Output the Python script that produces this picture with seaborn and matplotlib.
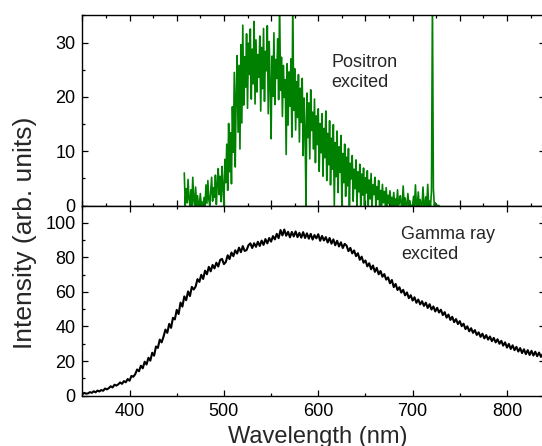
import numpy as np
import pandas as pd
import matplotlib
matplotlib.use("Agg")
import matplotlib.pyplot as plt
from matplotlib.ticker import MultipleLocator
import seaborn as sns

# ---------------- data ----------------
# Gamma-ray excited spectrum, sampled every 2 nm from 350 nm
gamma_start, gamma_step = 350, 2
gamma_intensity = [
    0.8, 1.6, 1.1, 1.3, 2.0, 1.6, 2.5, 1.9, 2.9, 2.4,
    3.2, 2.8, 4.1, 3.6, 4.3, 5.4, 4.7, 6.3, 5.8, 6.5,
    7.6, 6.8, 8.4, 7.7, 9.6, 8.6, 11.4, 10.9, 12.4, 15.1,
    14.1, 17.3, 15.8, 19.6, 18.0, 21.9, 20.2, 24.8, 23.1, 28.4,
    27.6, 32.4, 30.8, 34.1, 38.2, 36.3, 41.5, 39.2, 45.0, 44.1,
    49.6, 47.2, 53.8, 51.5, 57.4, 55.2, 60.3, 57.6, 62.9, 61.4,
    63.1, 67.4, 65.8, 69.9, 67.5, 72.3, 70.2, 74.5, 71.9, 75.6,
    73.6, 76.9, 74.7, 78.5, 79.1, 76.1, 77.3, 81.2, 79.0, 82.8,
    80.7, 84.1, 82.2, 85.6, 83.0, 86.5, 83.7, 84.2, 87.0, 88.1,
    85.4, 88.2, 86.1, 89.0, 86.6, 89.7, 87.2, 90.6, 88.1, 91.2,
    89.1, 92.3, 90.4, 93.6, 91.1, 95.8, 92.7, 96.1, 92.5, 94.8,
    91.6, 94.7, 92.1, 95.0, 91.7, 94.2, 91.4, 94.6, 91.2, 93.9,
    90.8, 93.6, 90.3, 92.9, 91.0, 93.4, 89.6, 92.4, 89.8, 91.7,
    88.6, 91.2, 87.9, 90.4, 87.0, 89.6, 86.3, 88.7, 85.4, 87.8,
    86.8, 83.6, 85.5, 82.3, 84.0, 80.7, 82.4, 78.6, 80.4, 76.9,
    78.2, 74.8, 76.6, 73.1, 75.3, 71.6, 73.9, 70.2, 72.1, 68.8,
    70.3, 67.1, 68.4, 65.0, 66.9, 62.8, 64.6, 61.1, 62.7, 59.6,
    61.2, 58.0, 59.7, 56.4, 58.1, 55.0, 56.9, 53.7, 55.6, 52.8,
    54.6, 51.9, 53.8, 50.7, 52.9, 49.8, 51.6, 48.7, 50.8, 48.1,
    49.7, 46.6, 48.3, 45.1, 46.9, 43.8, 45.6, 42.5, 44.3, 41.4,
    43.1, 40.2, 41.6, 38.5, 40.1, 37.2, 39.0, 36.3, 37.9, 35.1,
    36.6, 34.0, 35.8, 33.1, 35.0, 32.4, 34.2, 31.5, 33.4, 30.8,
    32.6, 30.0, 31.7, 28.9, 30.8, 27.8, 29.9, 27.0, 29.1, 26.3,
    28.2, 25.5, 27.5, 24.6, 26.8, 24.0, 26.3, 23.5, 25.9, 23.2,
    25.4, 22.8, 24.9, 22.4, 24.2, 22.0,
]

# Positron excited spectrum, sampled every 1 nm from 458 nm
positron_start, positron_step = 458, 1
positron_intensity = [
    6.0, 0, 3.1, 0.5, 4.8, 1.2, 0, 2.9, 0, 5.2, 1.0, 0,
    3.4, 0, 1.8, 0, 0, 2.2, 0, 0.6, 0, 1.5,
    0, 3.8, 0.4, 4.6, 1.1, 0, 2.7, 5.2, 0.8, 3.3,
    1.5, 5.6, 0.2, 4.1, 6.8, 2.0, 5.4, 0.7, 7.2, 3.1,
    0, 8.5, 4.2, 11.3, 2.8, 15.1, 6.2, 13.4, 4.0, 18.2,
    9.8, 24.5, 7.1, 20.3, 27.6, 13.5, 25.8, 10.4, 29.6, 15.2,
    33.2, 18.5, 27.4, 21.8, 31.6, 17.9, 29.9, 24.1, 32.5, 19.6,
    28.8, 22.4, 33.9, 18.7, 30.5, 20.9, 27.8, 23.6, 31.2, 17.4,
    29.1, 21.5, 32.6, 19.2, 28.4, 24.8, 33.1, 16.9, 30.2, 22.7,
    12.3, 27.5, 20.1, 31.8, 18.6, 26.9, 23.4, 30.7, 19.5, 38.0,
    21.2, 27.3, 16.4, 25.8, 19.9, 23.2, 9.4, 26.1, 14.8, 24.6,
    18.3, 27.0, 12.6, 38.0, 17.5, 25.2, 13.9, 22.8, 16.2, 24.1,
    11.7, 21.6, 15.3, 23.4, 9.2, 19.8, 14.1, 0, 20.7, 12.5,
    18.9, 8.6, 21.3, 13.8, 17.2, 10.4, 19.6, 7.9, 16.5, 11.2,
    17.8, 6.3, 15.1, 9.7, 16.9, 5.4, 14.2, 8.8, 17.4, 4.6,
    13.3, 7.5, 15.6, 3.8, 12.4, 6.7, 14.9, 0, 11.6, 5.3,
    13.7, 2.4, 10.8, 6.1, 12.9, 0, 9.6, 4.2, 11.3, 1.7,
    8.9, 3.6, 10.5, 0, 7.8, 4.9, 9.2, 0.8, 6.7, 3.1,
    8.4, 0, 6.2, 2.5, 7.6, 0, 5.8, 1.9, 6.9, 0,
    5.1, 2.3, 6.4, 0, 4.7, 1.2, 5.9, 0, 3.8, 2.0,
    5.2, 0, 3.5, 1.1, 4.6, 0, 2.8, 0, 3.9, 0.5,
    2.6, 0, 3.3, 0, 1.9, 0.4, 2.7, 0, 1.5, 0,
    2.4, 0, 1.2, 0, 2.9, 0, 0.6, 1.8, 0, 0,
    3.6, 0, 1.4, 0, 0, 2.2, 0, 0.9, 0, 0,
    0, 1.7, 0, 3.8, 0, 0, 2.5, 0, 1.1, 0,
    0, 3.4, 0, 0, 1.6, 0, 3.9, 0, 0.8, 0,
    2.6, 38.0, 3.2, 0, 0.5, 0, 0, 0, 0,
]

x_range = (350, 840)
top_ylim = (0, 35)
bottom_ylim = (0, 110)
x_ticks = [400, 500, 600, 700, 800]
top_yticks = [0, 10, 20, 30]
bottom_yticks = [0, 20, 40, 60, 80, 100]
x_label = "Wavelength (nm)"
y_label = "Intensity (arb. units)"
top_note = "Positron\nexcited"
bottom_note = "Gamma ray\nexcited"

gamma_df = pd.DataFrame({
    "wavelength": gamma_start + gamma_step * np.arange(len(gamma_intensity)),
    "intensity": gamma_intensity,
})
positron_df = pd.DataFrame({
    "wavelength": positron_start + positron_step * np.arange(len(positron_intensity)),
    "intensity": positron_intensity,
})

# ---------------- style ----------------
sns.set_style("ticks", {
    "xtick.direction": "in", "ytick.direction": "in",
    "xtick.top": True, "ytick.right": True,
})
plt.rcParams["font.family"] = ["Liberation Sans", "DejaVu Sans"]
plt.rcParams["axes.linewidth"] = 1.0
plt.rcParams["axes.edgecolor"] = "black"

fig = plt.figure(figsize=(5.42, 4.46), dpi=100)
left, width, h = 0.152, 0.853, 0.4262
ax_top = fig.add_axes([left, 0.5392, width, h])
ax_bot = fig.add_axes([left, 0.1130, width, h])

sns.lineplot(data=positron_df, x="wavelength", y="intensity", ax=ax_top,
             color="#008000", linewidth=1.2, estimator=None, sort=False)
sns.lineplot(data=gamma_df, x="wavelength", y="intensity", ax=ax_bot,
             color="black", linewidth=1.5, estimator=None, sort=False)

for ax in (ax_top, ax_bot):
    ax.set_xlim(*x_range)
    ax.set_xlabel("")
    ax.set_ylabel("")
    for s in ax.spines.values():
        s.set_visible(True)
        s.set_linewidth(1.0)
        s.set_color("black")
    ax.tick_params(which="both", direction="in", top=True, right=True,
                   labelsize=13, colors="black", width=0.9)
    ax.tick_params(which="major", length=4.5, pad=5)
    ax.tick_params(which="minor", length=2.5)

ax_top.set_ylim(*top_ylim)
ax_top.set_yticks(top_yticks)
ax_top.yaxis.set_minor_locator(MultipleLocator(5))
ax_top.xaxis.set_major_locator(MultipleLocator(50))
ax_top.xaxis.set_minor_locator(MultipleLocator(25))
ax_top.tick_params(axis="x", labelbottom=False)

ax_bot.set_ylim(*bottom_ylim)
ax_bot.set_yticks(bottom_yticks)
ax_bot.yaxis.set_minor_locator(MultipleLocator(10))
ax_bot.set_xticks(x_ticks)
ax_bot.xaxis.set_minor_locator(MultipleLocator(50))

ax_top.text(0.539, 0.797, top_note, transform=ax_top.transAxes,
            ha="left", va="top", fontsize=13, linespacing=1.2)
ax_bot.text(0.690, 0.892, bottom_note, transform=ax_bot.transAxes,
            ha="left", va="top", fontsize=13, linespacing=1.2)

fig.text(0.587, 1 - 426 / 446, x_label, ha="center", va="top", fontsize=17)
fig.text(25 / 542, 0.478, y_label, ha="center", va="center",
         rotation=90, fontsize=19)

fig.savefig("out.png", dpi=100)
